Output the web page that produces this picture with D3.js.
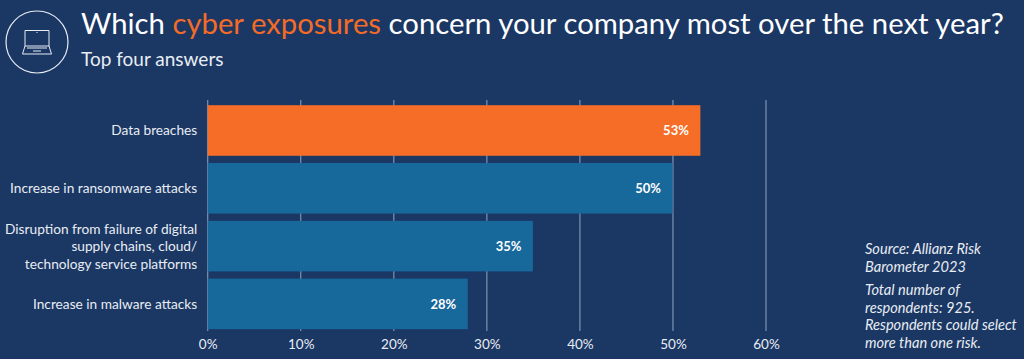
<!DOCTYPE html>
<html>
<head>
<meta charset="utf-8">
<script src="https://cdn.jsdelivr.net/npm/d3@7/dist/d3.min.js"></script>
<style>
  html, body { margin: 0; padding: 0; background: #1b3764; }
  svg { display: block; font-family: "Lato", "Open Sans", sans-serif; }
</style>
</head>
<body>
<div id="wrapper"></div>
<script>
const categories = ["Data breaches", "Increase in ransomware attacks", "Disruption from failure of digital supply chains, cloud/ technology service platforms", "Increase in malware attacks"]
const categoryLines = [
  ["Data breaches"],
  ["Increase in ransomware attacks"],
  ["Disruption from failure of digital", "supply chains, cloud/", "technology service platforms"],
  ["Increase in malware attacks"]
]
const shares = [53, 50, 35, 28]
const xTicks = [0, 10, 20, 30, 40, 50, 60]
const titleParts = [
  {text: "Which ", hot: false},
  {text: "cyber exposures", hot: true},
  {text: " concern your company most over the next year?", hot: false}
]
const subtitle = "Top four answers"
const sourceLines = ["Source: Allianz Risk", "Barometer 2023"]
const noteLines = ["Total number of", "respondents: 925.", "Respondents could select", "more than one risk."]

const dimensions = {
  width: 1024,
  height: 359,
  margin: {top: 100, right: 258, bottom: 28, left: 207.7},
}
dimensions.boundedWidth = dimensions.width - dimensions.margin.left - dimensions.margin.right
dimensions.boundedHeight = dimensions.height - dimensions.margin.top - dimensions.margin.bottom

const svg = d3.select("#wrapper").append("svg")
    .attr("width", dimensions.width)
    .attr("height", dimensions.height)

// header
svg.append("text")
    .attr("x", 81).attr("y", 34)
    .attr("font-size", 29.3)
    .attr("fill", "#ffffff")
  .selectAll("tspan")
  .data(titleParts)
  .join("tspan")
    .attr("xml:space", "preserve")
    .attr("fill", d => d.hot ? "#f26c27" : "#ffffff")
    .text(d => d.text)

svg.append("text")
    .attr("x", 81).attr("y", 65.5)
    .attr("font-size", 19)
    .attr("fill", "#e8edf3")
    .text(subtitle)

// laptop icon
const icon = svg.append("g")
    .attr("fill", "none")
    .attr("stroke", "#e8edf3")
icon.append("circle").attr("cx", 37).attr("cy", 42).attr("r", 31).attr("stroke-width", 1.2)
icon.append("path").attr("stroke-width", 1).attr("d", "M25 46V30.5H49V46M25 46L22.5 54H51.5L49 46ZM27 48H47M33 51H41M37 32V33")

const bounds = svg.append("g")
    .attr("transform", `translate(${dimensions.margin.left}, ${dimensions.margin.top})`)

const xScale = d3.scaleLinear()
    .domain([0, 60])
    .range([0, 558.3])

const yScale = d3.scaleBand()
    .domain(categories)
    .range([5.2, 229.2])
    .paddingInner(0.125)

// gridlines
bounds.append("g")
  .selectAll("line")
  .data(xTicks)
  .join("line")
    .attr("x1", d => xScale(d)).attr("x2", d => xScale(d))
    .attr("y1", 0).attr("y2", dimensions.boundedHeight)
    .attr("stroke", "#7f93b0")
    .attr("stroke-width", 1.2)

// bars
bounds.append("g")
  .selectAll("rect")
  .data(shares)
  .join("rect")
    .attr("x", 0)
    .attr("y", (d, i) => yScale(categories[i]))
    .attr("width", d => xScale(d) - 0.5)
    .attr("height", yScale.bandwidth())
    .attr("fill", (d, i) => i == 0 ? "#f66d27" : "#17689b")

// value labels
bounds.append("g")
  .selectAll("text")
  .data(shares)
  .join("text")
    .attr("x", d => xScale(d) - 12)
    .attr("y", (d, i) => yScale(categories[i]) + yScale.bandwidth() / 2 + 5)
    .attr("text-anchor", "end")
    .attr("font-size", 13)
    .attr("font-weight", 700)
    .attr("fill", "#ffffff")
    .text(d => d + "%")

// category labels
categoryLines.forEach((lines, i) => {
  const mid = yScale(categories[i]) + yScale.bandwidth() / 2
  lines.forEach((line, j) => {
    bounds.append("text")
        .attr("x", -10.5)
        .attr("y", mid + 5 + (j - (lines.length - 1) / 2) * 17.6)
        .attr("text-anchor", "end")
        .attr("font-size", 13.7)
        .attr("fill", "#e8edf3")
        .text(line)
  })
})

// x axis
const xAxis = bounds.append("g")
    .attr("transform", `translate(0, ${dimensions.boundedHeight})`)
    .call(d3.axisBottom(xScale).tickValues(xTicks).tickSize(0).tickPadding(8).tickFormat(d => d + "%"))
xAxis.select(".domain").remove()
xAxis.selectAll("text")
    .attr("font-family", "Lato, sans-serif")
    .attr("font-size", 13.5)
    .attr("fill", "#e8edf3")

// source note
sourceLines.forEach((line, i) => {
  svg.append("text")
      .attr("x", 865).attr("y", 253.5 + i * 18)
      .attr("font-size", 14.6).attr("font-style", "italic").attr("fill", "#e8edf3")
      .text(line)
})
noteLines.forEach((line, i) => {
  svg.append("text")
      .attr("x", 865).attr("y", 295 + i * 17.7)
      .attr("font-size", 14.6).attr("font-style", "italic").attr("fill", "#e8edf3")
      .text(line)
})
</script>
</body>
</html>
